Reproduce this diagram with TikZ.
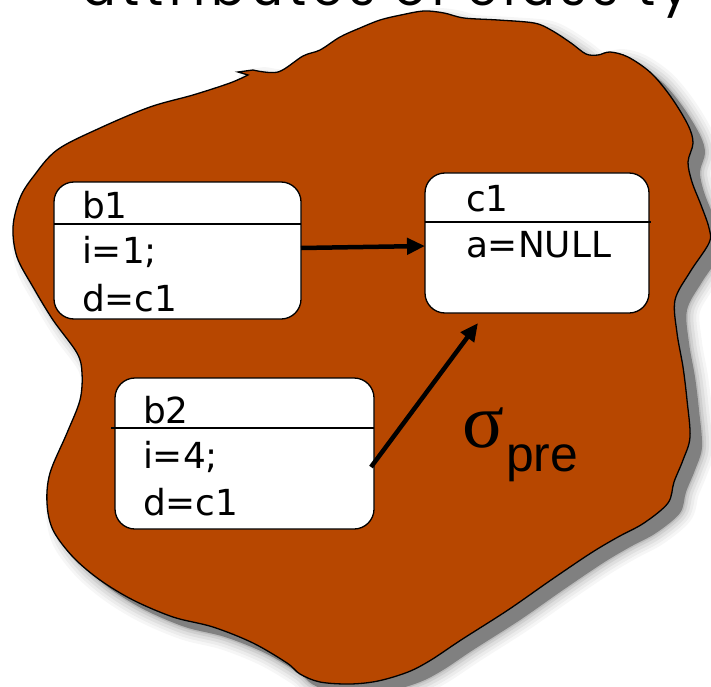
\documentclass[tikz,border=0pt]{standalone}
\usepackage{fontspec}
\usetikzlibrary{arrows.meta}
\newfontfamily\boxfont{DejaVu Sans}
\newfontfamily\greekfont{Liberation Serif}
\newfontfamily\labelfont{Liberation Sans}
\newfontfamily\titlefont[LetterSpace=11.5]{Poppins}
\definecolor{blobfill}{RGB}{183,71,0}
\definecolor{shadowgray}{RGB}{128,128,128}

% outline of the state region (sharp notch closes the path)
\newcommand\stateregion{plot[smooth, tension=0.55] coordinates {
 (253,70) (278,72) (303,56) (320,50) (340,37) (360,28) (380,20) (401,15)
 (424,11) (444,13) (464,18) (498,20) (534,23) (551,30) (571,43) (586,54)
 (598,55) (610,52) (628,57) (651,73) (671,97) (688,125) (693,143) (688,162)
 (692,182) (701,205) (709,228) (709,243) (690,272) (675,300) (677,333)
 (683,367) (687,400) (690,437) (683,460) (674,482) (668,503) (644,523)
 (618,537) (591,553) (551,580) (508,610) (461,640) (431,660) (408,672)
 (378,681) (350,684) (320,682) (300,674) (287,663) (253,643) (213,627)
 (173,617) (133,600) (100,580) (73,557) (53,530) (47,503) (50,473) (67,433)
 (80,400) (82,373) (77,353) (53,320) (33,287) (17,257) (13,227) (20,198)
 (33,177) (57,150) (100,128) (150,107) (193,95) (230,83) (248,75)}
 -- (238,72) -- cycle}

\tikzset{
  objbox/.style={draw, line width=1.3bp, fill=white, rounded corners=20bp,
                 inner sep=0, outer sep=0},
  divider/.style={line width=1.3bp},
  txt/.style={anchor=base west, inner sep=0, outer sep=0,
              font=\boxfont\fontsize{36}{42}\selectfont},
  ptr/.style={line width=4.5bp, -{Triangle[length=18bp,width=16bp]}},
}

\begin{document}
\begin{tikzpicture}[x=1bp,y=-1bp]
\useasboundingbox (0,0) rectangle (711,687);

% heading, mostly above the top edge
\begin{scope}
\clip (0,0) rectangle (711,687);
\node[anchor=base west, inner sep=0, font=\titlefont\fontsize{50}{50}\selectfont]
  (title) at (82,6) {attributes of class ty};
\end{scope}

% soft drop shadow
\begin{scope}[shift={(12,10)}]
\foreach \w/\o in {26/0.07, 20/0.09, 14/0.12, 8/0.16, 3/0.25}{
  \path[draw=shadowgray, line width=\w bp, line join=round, draw opacity=\o] \stateregion;
}
\path[fill=shadowgray] \stateregion;
\end{scope}

% the state region
\path[fill=blobfill, draw=black, line width=1.3bp] \stateregion;

% objects
\node[objbox, minimum width=247bp, minimum height=137bp] (b1) at (177.5,250.5) {};
\node[objbox, minimum width=224bp, minimum height=140bp] (c1) at (537,243) {};
\node[objbox, minimum width=259bp, minimum height=151bp] (b2) at (244.5,453.5) {};

\draw[divider] (54,224) -- (301,224);
\draw[divider] (425,222) -- (651,222);
\draw[divider] (111,428) -- (374,428);

\node[txt] (b1name) at (82,218) {b1};
\node[txt] (b1i)    at (82,263) {i=1;};
\node[txt] (b1d)    at (82,311) {d=c1};
\node[txt] (c1name) at (466,211) {c1};
\node[txt] (c1a)    at (466,257) {a=NULL};
\node[txt] (b2name) at (143,423) {b2};
\node[txt] (b2i)    at (143,468) {i=4;};
\node[txt] (b2d)    at (143,515) {d=c1};

% references between objects
\coordinate (tip2) at (478,323);
\draw[ptr] ([yshift=2.5bp]b1.east) -- ([yshift=-3bp]c1.west);
\draw[ptr] ([xshift=-3bp,yshift=-13.5bp]b2.east) -- (tip2);

% state label
\node[anchor=base west, inner sep=0] (sigma) at (462,447)
  {\greekfont\fontsize{78}{78}\selectfont σ};
\node[anchor=base west, inner sep=0] (pre) at (506,471)
  {\labelfont\fontsize{50}{50}\selectfont pre};
\end{tikzpicture}
\end{document}
